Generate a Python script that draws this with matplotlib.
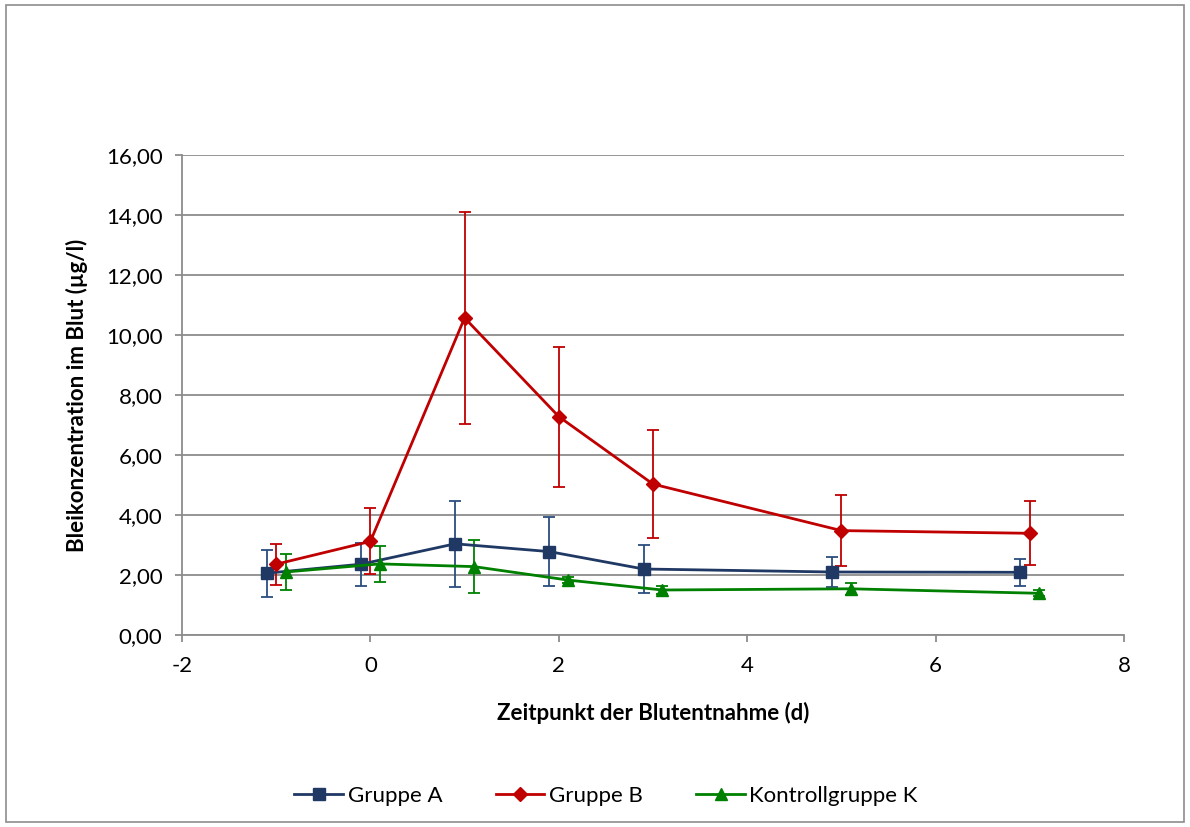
import matplotlib
matplotlib.use("Agg")
import matplotlib.pyplot as plt
from matplotlib.ticker import FuncFormatter, MultipleLocator
from matplotlib.patches import Rectangle

plt.rcParams['font.family'] = ['Lato', 'DejaVu Sans']
plt.rcParams['axes.unicode_minus'] = False

# Data
x_a = [-1.1, -0.1, 0.9, 1.9, 2.9, 4.9, 6.9]
y_a = [2.06, 2.36, 3.04, 2.78, 2.20, 2.10, 2.09]
e_a = [0.78, 0.72, 1.44, 1.16, 0.81, 0.49, 0.45]

x_b = [-1.0, 0.0, 1.0, 2.0, 3.0, 5.0, 7.0]
y_b = [2.36, 3.12, 10.57, 7.28, 5.03, 3.48, 3.39]
e_b = [0.68, 1.10, 3.52, 2.33, 1.81, 1.18, 1.07]

x_k = [-0.9, 0.1, 1.1, 2.1, 3.1, 5.1, 7.1]
y_k = [2.10, 2.37, 2.28, 1.83, 1.50, 1.54, 1.39]
e_k = [0.60, 0.60, 0.89, 0.10, 0.12, 0.20, 0.10]

labels = ["Gruppe A", "Gruppe B", "Kontrollgruppe K"]
colors = ["#1F3864", "#C00000", "#008000"]
ecolors = ["#2A4D80", "#C00000", "#008000"]
markers = ["s", "D", "^"]
msizes = [8, 7.5, 9]

W, H = 1190, 827
FS = 16
fig = plt.figure(figsize=(W / 100, H / 100), dpi=100)
ax = fig.add_axes([182 / W, (H - 635) / H, 942 / W, 480 / H])

series = [(x_a, y_a, e_a), (x_b, y_b, e_b), (x_k, y_k, e_k)]
handles = []
for (xs, ys, es), lab, c, ec, m, ms in zip(series, labels, colors, ecolors, markers, msizes):
    ax.errorbar(xs, ys, yerr=es, fmt='none', ecolor=ec, elinewidth=1.3,
                capsize=4.5, capthick=1.3, zorder=3)
    h, = ax.plot(xs, ys, color=c, lw=2.0, marker=m, markersize=ms,
                 markerfacecolor=c, markeredgecolor=c, label=lab, zorder=4)
    handles.append(h)

ax.set_xlim(-2, 8)
ax.set_ylim(0, 16)
ax.xaxis.set_major_locator(MultipleLocator(2))
ax.yaxis.set_major_locator(MultipleLocator(2))
ax.yaxis.set_major_formatter(FuncFormatter(lambda v, p: f"{v:.2f}".replace('.', ',')))
ax.xaxis.set_major_formatter(FuncFormatter(lambda v, p: f"{int(round(v))}"))

ax.grid(axis='y', color='#8C8C8C', lw=1.3, zorder=0)
ax.set_axisbelow(True)
for s in ['top', 'right']:
    ax.spines[s].set_visible(False)
for s in ['left', 'bottom']:
    ax.spines[s].set_color('#8C8C8C')
    ax.spines[s].set_linewidth(1.3)
ax.tick_params(axis='both', colors='#8C8C8C', labelcolor='black', labelsize=FS,
               length=5, width=1.3, direction='out')
ax.tick_params(axis='y', pad=9)
ax.tick_params(axis='x', pad=10)

ax.set_xlabel("Zeitpunkt der Blutentnahme (d)", fontsize=FS, fontweight='bold', labelpad=19)
ax.set_ylabel("Bleikonzentration im Blut (µg/l)", fontsize=FS, fontweight='bold', labelpad=13)

fig.legend(handles=handles, labels=labels, loc='center', bbox_to_anchor=(606 / W, 31 / H),
           ncol=3, frameon=False, fontsize=FS, handlelength=2.2, columnspacing=2.4,
           handletextpad=0.2)

fig.patches.append(Rectangle((6 / W, 5 / H), (W - 12) / W, (H - 10) / H, transform=fig.transFigure,
                             fill=False, edgecolor='#8C8C8C', lw=1.2))

fig.savefig("out.png", dpi=100, facecolor='white')
